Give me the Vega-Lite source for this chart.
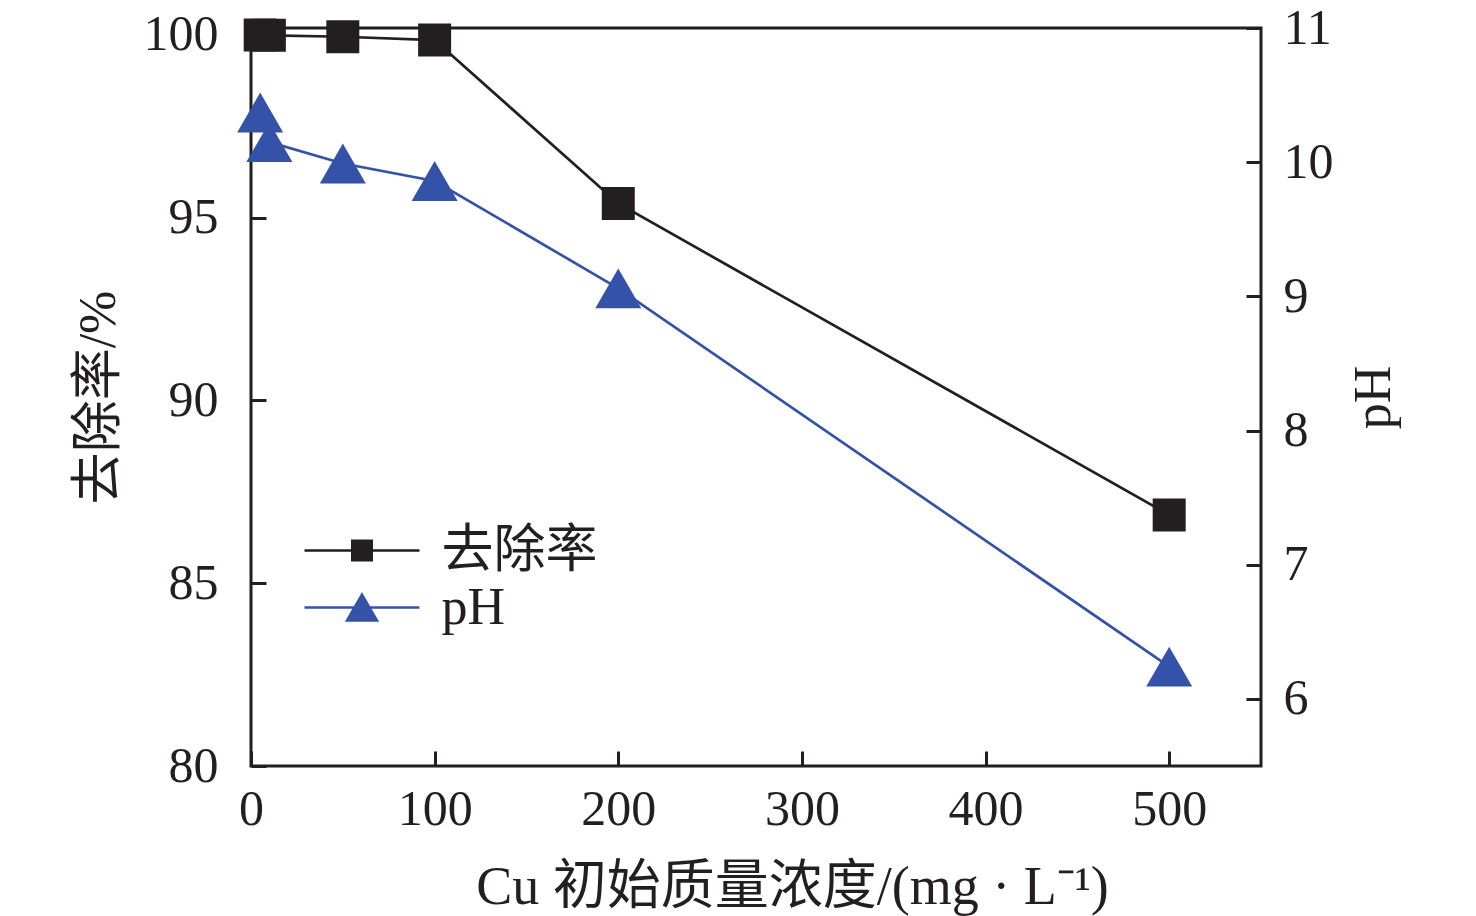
{
  "$schema": "https://vega.github.io/schema/vega-lite/v6.json",
  "description": "Cu removal rate and pH vs initial Cu concentration",
  "width": 1010,
  "height": 738,
  "autosize": {"type": "none"},
  "padding": {"left": 251, "top": 28, "right": 215, "bottom": 150},
  "data": {
    "values": [
      {"c": 5, "removal": 100.0, "ph": 10.37},
      {"c": 10, "removal": 99.99, "ph": 10.15},
      {"c": 50, "removal": 99.95, "ph": 9.99},
      {"c": 100, "removal": 99.86, "ph": 9.86},
      {"c": 200, "removal": 95.39, "ph": 9.06},
      {"c": 500, "removal": 86.87, "ph": 6.24}
    ]
  },
  "encoding": {
    "x": {
      "field": "c",
      "type": "quantitative",
      "scale": {"domain": [0, 550], "nice": false, "zero": false},
      "axis": {
        "values": [0, 100, 200, 300, 400, 500],
        "labelFlush": false,
        "title": "Cu 初始质量浓度/(mg · L⁻¹)",
        "titleX": 541,
        "titleY": 137,
        "titleAlign": "center",
        "titleBaseline": "alphabetic",
        "titleFontSize": 54,
        "labelPadding": 33
      }
    }
  },
  "layer": [
    {
      "encoding": {
        "y": {
          "field": "removal",
          "type": "quantitative",
          "scale": {"domain": [80, 100.19], "nice": false, "zero": false},
          "axis": {
            "orient": "left",
            "values": [80, 85, 90, 95, 100],
            "title": "去除率/%",
            "titleAngle": 270,
            "titleX": -153,
            "titleY": 369,
            "titleAlign": "center",
            "titleBaseline": "middle",
            "labelPadding": 48
          }
        },
        "color": {
          "datum": "去除率",
          "type": "nominal",
          "scale": {"domain": ["去除率", "pH"], "range": ["#231f20", "#3452a8"]},
          "legend": {
            "orient": "none",
            "legendX": 84.5,
            "legendY": 496,
            "title": null,
            "symbolSize": 2500,
            "labelOffset": 53,
            "rowPadding": 4,
            "labelFontSize": 52,
            "labelFont": "Liberation Serif, Noto Sans CJK SC",
            "labelColor": "#231f20",
            "encode": {
              "symbols": {
                "update": {
                  "shape": {"signal": "datum.value == '去除率' ? 'M-2.3,0H2.3M-0.39,-0.39H0.39V0.39H-0.39Z' : 'M-2.3,0H2.3M0,-0.52L0.6,0.52H-0.6Z'"},
                  "fill": {"signal": "datum.value == '去除率' ? '#231f20' : '#3452a8'"},
                  "stroke": {"signal": "datum.value == '去除率' ? '#231f20' : '#3452a8'"},
                  "strokeWidth": {"value": 2.5},
                  "opacity": {"value": 1}
                }
              }
            }
          }
        }
      },
      "layer": [
        {"mark": {"type": "line", "strokeWidth": 2.7}},
        {"mark": {"type": "point", "shape": "square", "filled": true, "size": 1089, "opacity": 1, "color": "white"}},
        {"mark": {"type": "point", "shape": "square", "filled": true, "size": 529, "opacity": 1}}
      ]
    },
    {
      "encoding": {
        "y": {
          "field": "ph",
          "type": "quantitative",
          "scale": {"domain": [5.5, 11], "nice": false, "zero": false},
          "axis": {
            "orient": "right",
            "values": [6, 7, 8, 9, 10, 11],
            "title": "pH",
            "titleAngle": 270,
            "titleX": 112,
            "titleY": 369,
            "titleAlign": "center",
            "titleBaseline": "middle",
            "labelPadding": 37
          }
        },
        "color": {"datum": "pH", "type": "nominal"}
      },
      "layer": [
        {"mark": {"type": "line", "strokeWidth": 2.7}},
        {"mark": {"type": "point", "shape": "triangle-up", "filled": true, "size": 2116, "opacity": 1, "color": "white"}},
        {"mark": {"type": "point", "shape": "triangle-up", "filled": true, "size": 1156, "opacity": 1}}
      ]
    }
  ],
  "resolve": {"scale": {"y": "independent"}},
  "config": {
    "background": "white",
    "view": {"stroke": "#231f20", "strokeWidth": 3},
    "font": "Liberation Serif, Noto Sans CJK SC",
    "axis": {
      "domain": false,
      "grid": false,
      "tickColor": "#231f20",
      "tickWidth": 3,
      "tickSize": -15,
      "labelFont": "Liberation Serif",
      "labelFontSize": 50,
      "labelColor": "#231f20",
      "titleFont": "Liberation Serif, Noto Sans CJK SC",
      "titleFontSize": 52,
      "titleFontWeight": "normal",
      "titleColor": "#231f20"
    }
  }
}
